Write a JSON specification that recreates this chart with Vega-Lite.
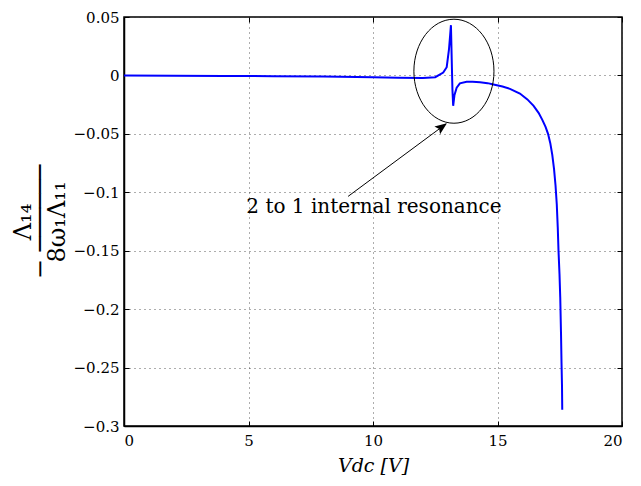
{
  "$schema": "https://vega.github.io/schema/vega-lite/v6.json",
  "width": 498,
  "height": 409,
  "autosize": {"type": "none"},
  "padding": {"left": 124, "top": 17, "right": 19, "bottom": 60},
  "background": "white",
  "config": {
    "view": {"stroke": "black", "strokeWidth": 1.5},
    "font": "DejaVu Serif",
    "axis": {
      "labelFont": "DejaVu Serif",
      "titleFont": "DejaVu Serif",
      "labelFontSize": 15,
      "labelColor": "black",
      "titleColor": "black",
      "titleFontWeight": "normal",
      "domainColor": "black",
      "tickColor": "black",
      "gridColor": "#333333",
      "gridDash": [1, 4],
      "gridOpacity": 0.8,
      "gridWidth": 1
    }
  },
  "datasets": {
    "curve": [
      {"v": 0, "r": 0},
      {"v": 2, "r": -0.0002},
      {"v": 4, "r": -0.0004},
      {"v": 6, "r": -0.0007},
      {"v": 8, "r": -0.001},
      {"v": 10, "r": -0.0015},
      {"v": 11, "r": -0.002},
      {"v": 12, "r": -0.0022},
      {"v": 12.5, "r": -0.0015},
      {"v": 12.82, "r": 0.0025},
      {"v": 12.96, "r": 0.007},
      {"v": 13.05, "r": 0.022},
      {"v": 13.1, "r": 0.035},
      {"v": 13.13, "r": 0.043},
      {"v": 13.16, "r": 0.015},
      {"v": 13.19, "r": -0.012},
      {"v": 13.22, "r": -0.026},
      {"v": 13.27, "r": -0.017},
      {"v": 13.36, "r": -0.0105},
      {"v": 13.49, "r": -0.0068},
      {"v": 13.76, "r": -0.0054},
      {"v": 14.0, "r": -0.0054},
      {"v": 14.3, "r": -0.0058},
      {"v": 14.6, "r": -0.0066},
      {"v": 14.84, "r": -0.0077},
      {"v": 15.2, "r": -0.0095},
      {"v": 15.5, "r": -0.0115},
      {"v": 15.9, "r": -0.0155},
      {"v": 16.2, "r": -0.0205},
      {"v": 16.45, "r": -0.026},
      {"v": 16.65, "r": -0.032},
      {"v": 16.8, "r": -0.038},
      {"v": 16.93, "r": -0.044},
      {"v": 17.03, "r": -0.05},
      {"v": 17.12, "r": -0.058},
      {"v": 17.2, "r": -0.068},
      {"v": 17.27, "r": -0.08},
      {"v": 17.33, "r": -0.094},
      {"v": 17.38, "r": -0.11},
      {"v": 17.42, "r": -0.13},
      {"v": 17.45, "r": -0.15},
      {"v": 17.49, "r": -0.17},
      {"v": 17.52, "r": -0.19},
      {"v": 17.55, "r": -0.22},
      {"v": 17.57, "r": -0.245},
      {"v": 17.59, "r": -0.265},
      {"v": 17.6, "r": -0.286}
    ],
    "ellipse": [{"v": 13.25, "r": 0.0036}],
    "arrow": [{"v": 9.0, "r": -0.1035, "v2": 12.93, "r2": -0.0415}],
    "head": [{"v": 12.97, "r": -0.041}],
    "label": [{"v": 10.04, "r": -0.113, "t": "2 to 1 internal resonance"}]
  },
  "resolve": {"axis": {"x": "independent", "y": "independent"}},
  "layer": [
    {
      "data": {"name": "curve"},
      "mark": {"type": "line", "color": "#0000ff", "strokeWidth": 2, "clip": true},
      "encoding": {
        "x": {
          "field": "v", "type": "quantitative",
          "scale": {"domain": [0, 20], "nice": false, "zero": false},
          "axis": {
            "values": [0, 5, 10, 15, 20],
            "grid": true,
            "tickSize": -5,
            "labelFont": "DejaVu Serif",
            "labelFontSize": 15,
            "labelPadding": 12,
            "domainWidth": 1.5,
            "title": "Vdc [V]",
            "titleFont": "DejaVu Serif",
            "titleFontSize": 19,
            "titleFontStyle": "italic",
            "titlePadding": 8
          }
        },
        "y": {
          "field": "r", "type": "quantitative",
          "scale": {"domain": [-0.3, 0.05], "nice": false, "zero": false},
          "axis": {
            "values": [-0.3, -0.25, -0.2, -0.15, -0.1, -0.05, 0, 0.05],
            "format": "~g",
            "grid": true,
            "tickSize": -5,
            "labelFont": "DejaVu Serif",
            "labelFontSize": 15,
            "labelPadding": 10,
            "domainWidth": 1.5,
            "title": ["    Λ₁₄", "− ──────", "    8ω₁Λ₁₁"],
            "titleFont": "DejaVu Serif",
            "titleFontSize": 24,
            "titleLineHeight": 17,
            "titlePadding": 4
          }
        }
      }
    },
    {
      "data": {"name": "ellipse"},
      "mark": {
        "type": "point",
        "shape": "M -0.77 0 A 0.77 1 0 1 0 0.77 0 A 0.77 1 0 1 0 -0.77 0 Z",
        "size": 10816,
        "filled": false,
        "stroke": "black",
        "strokeWidth": 1,
        "opacity": 1
      },
      "encoding": {
        "x": {
          "field": "v", "type": "quantitative",
          "axis": {"orient": "top", "values": [0, 5, 10, 15, 20], "labels": false, "title": null, "grid": false, "domain": false, "tickSize": -5}
        },
        "y": {
          "field": "r", "type": "quantitative",
          "axis": {"orient": "right", "values": [-0.3, -0.25, -0.2, -0.15, -0.1, -0.05, 0, 0.05], "labels": false, "title": null, "grid": false, "domain": false, "tickSize": -5}
        }
      }
    },
    {
      "data": {"name": "arrow"},
      "mark": {"type": "rule", "color": "black", "strokeWidth": 1},
      "encoding": {
        "x": {"field": "v", "type": "quantitative", "axis": null},
        "y": {"field": "r", "type": "quantitative", "axis": null},
        "x2": {"field": "v2"},
        "y2": {"field": "r2"}
      }
    },
    {
      "data": {"name": "head"},
      "mark": {
        "type": "point",
        "shape": "M 0 0 L -0.4 1 L 0 0.8 L 0.4 1 Z",
        "size": 576,
        "filled": true,
        "color": "black",
        "opacity": 1,
        "angle": 54
      },
      "encoding": {
        "x": {"field": "v", "type": "quantitative", "axis": null},
        "y": {"field": "r", "type": "quantitative", "axis": null}
      }
    },
    {
      "data": {"name": "label"},
      "mark": {"type": "text", "font": "DejaVu Serif", "fontSize": 20, "color": "black", "align": "center", "baseline": "middle"},
      "encoding": {
        "x": {"field": "v", "type": "quantitative", "axis": null},
        "y": {"field": "r", "type": "quantitative", "axis": null},
        "text": {"field": "t"}
      }
    }
  ]
}
